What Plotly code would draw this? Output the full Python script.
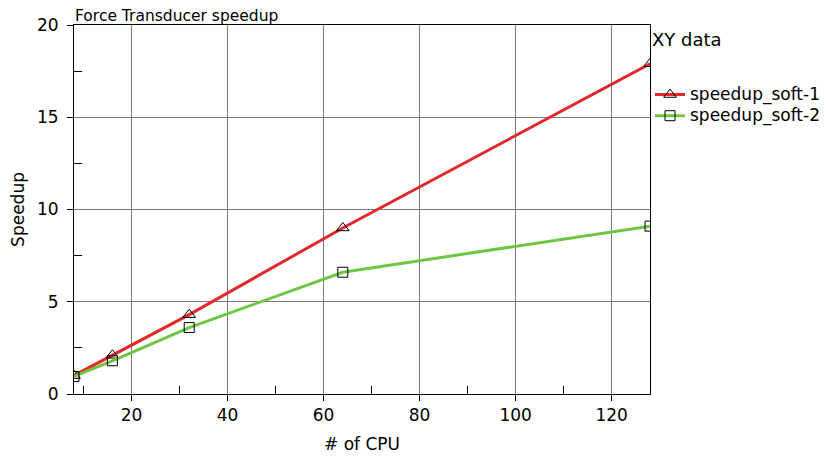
import plotly.graph_objects as go

cpus = [8, 16, 32, 64, 128]
speedup_soft_1 = [1.0, 2.1, 4.3, 9.0, 17.9]
speedup_soft_2 = [0.95, 1.8, 3.6, 6.6, 9.1]
series_names = ["speedup_soft-1", "speedup_soft-2"]

FONT = "DejaVu Sans"

def big(name, px=17):
    return '<span style="font-size:%dpx">%s</span>' % (px, name)

fig = go.Figure()
fig.add_trace(go.Scatter(
    x=cpus, y=speedup_soft_1, name=big(series_names[0]), mode="lines+markers",
    line=dict(color="#e3272b", width=3),
    marker=dict(symbol="triangle-up-open", size=11, color="black", line=dict(width=1)),
))
fig.add_trace(go.Scatter(
    x=cpus, y=speedup_soft_2, name=big(series_names[1]), mode="lines+markers",
    line=dict(color="#6cc644", width=3),
    marker=dict(symbol="square-open", size=10, color="black", line=dict(width=1)),
))

axis_common = dict(
    showline=True, linecolor="black", linewidth=1, mirror=True,
    showgrid=True, gridcolor="#7a7a7a", gridwidth=1,
    ticks="outside", ticklen=6, tickcolor="black",
    tickfont=dict(family=FONT, size=17, color="black"),
    zeroline=False, automargin=False,
)

fig.update_xaxes(
    range=[8, 128], tickvals=[20, 40, 60, 80, 100, 120],
    minor=dict(tickvals=[10, 30, 50, 70, 90, 110], ticks="inside", ticklen=8, tickcolor="black", showgrid=False),
    title=dict(text="# of CPU", font=dict(family=FONT, size=17, color="black"), standoff=13),
    **axis_common,
)
fig.update_yaxes(
    range=[0, 20], tickvals=[0, 5, 10, 15, 20],
    minor=dict(tickvals=[2.5, 7.5, 12.5, 17.5], ticks="inside", ticklen=8, tickcolor="black", showgrid=False),
    title=dict(text="Speedup", font=dict(family=FONT, size=17, color="black"), standoff=14),
    ticklabelstandoff=5,
    **axis_common,
)

fig.update_layout(
    width=830, height=457,
    margin=dict(l=66, r=188, t=17, b=71),
    paper_bgcolor="white", plot_bgcolor="white",
    font=dict(family=FONT, size=17, color="black"),
    title=dict(text="Force Transducer speedup", x=0, xref="paper", xanchor="left",
               y=1, yref="paper", yanchor="bottom", pad=dict(b=4, l=1),
               font=dict(family=FONT, size=15.5, color="black")),
    legend=dict(x=1.0, xanchor="left", y=0.986, yanchor="top",
                title=dict(text=big("XY data", 18) + "<br><br>",
                           font=dict(family=FONT, size=12.5)),
                font=dict(family=FONT, size=14, color="black"),
                tracegroupgap=0, itemwidth=30, bgcolor="rgba(0,0,0,0)"),
    showlegend=True,
)

fig.write_html("out.html")
